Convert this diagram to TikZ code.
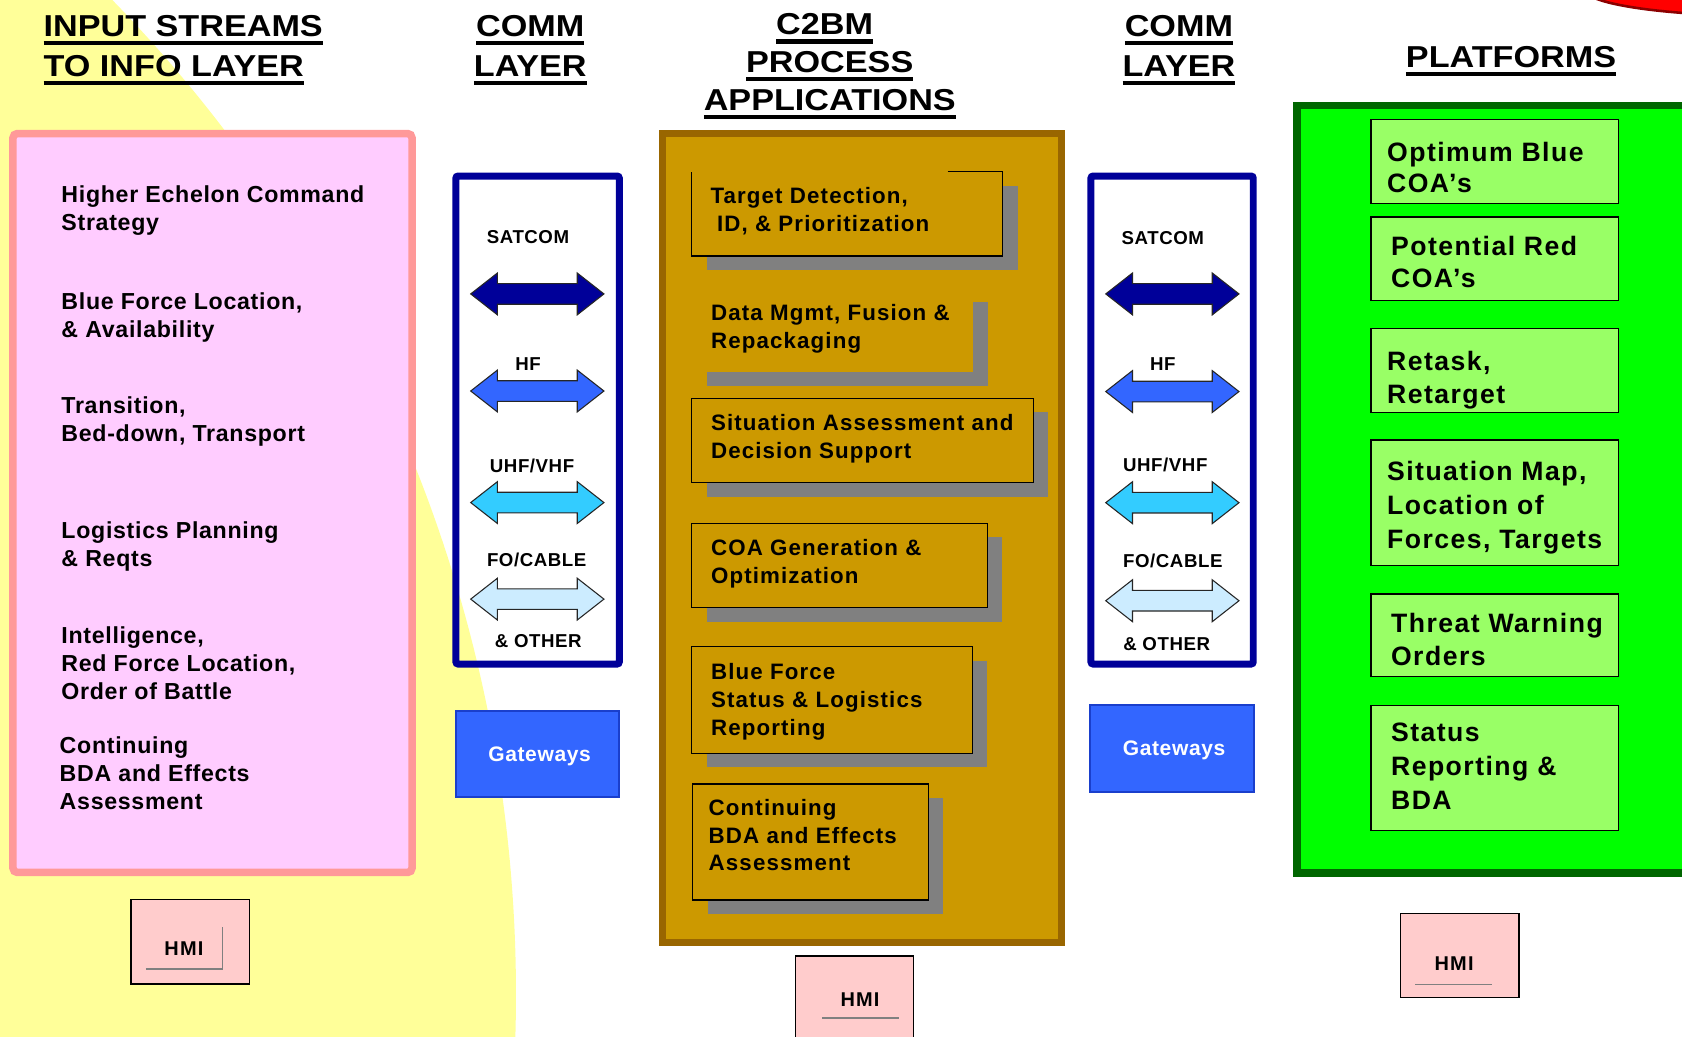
\documentclass[tikz,border=0pt]{standalone}
\usepackage{fontspec}
\setmainfont{Liberation Sans}
\newfontfamily\headfont{Liberation Sans}[FakeStretch=1.13]
\newfontfamily\leftfont{Liberation Sans}[LetterSpace=3]
\newfontfamily\procfont{Liberation Sans}[LetterSpace=5]
\newfontfamily\platfont{Liberation Sans}[LetterSpace=5.5]
\newfontfamily\commfont{Liberation Sans}[LetterSpace=3]
\newfontfamily\hmifont{Liberation Sans}[LetterSpace=6]
\usetikzlibrary{fit,shadows}

\definecolor{bgyellow}{HTML}{FFFF99}
\definecolor{inpfill}{HTML}{FFCCFF}
\definecolor{inpline}{HTML}{FF9999}
\definecolor{commline}{HTML}{000099}
\definecolor{satcol}{HTML}{000099}
\definecolor{hfcol}{HTML}{3366FF}
\definecolor{uhfcol}{HTML}{33CCFF}
\definecolor{focol}{HTML}{CCECFF}
\definecolor{gatefill}{HTML}{3366FF}
\definecolor{gateline}{HTML}{1A3FCC}
\definecolor{procfill}{HTML}{CC9900}
\definecolor{procline}{HTML}{996600}
\definecolor{shadowgray}{HTML}{808080}
\definecolor{platfill}{HTML}{00FF00}
\definecolor{platline}{HTML}{006600}
\definecolor{itemfill}{HTML}{99FF66}
\definecolor{hmifill}{HTML}{FFCCCC}
\definecolor{redmark}{HTML}{FF0000}

% underlined heading line
\newcommand\hdline[1]{\leavevmode\setbox0=\hbox{#1}\rlap{\rule[-4.1pt]{\wd0}{2pt}}\box0}

\tikzset{
  commarrow/.pic={
    \path[pic actions] (-62.1,0) -- (-37.2,-19.5) -- (-37.2,-9.6) -- (37.2,-9.6)
      -- (37.2,-19.5) -- (62.1,0) -- (37.2,19.5) -- (37.2,9.6) -- (-37.2,9.6)
      -- (-37.2,19.5) -- cycle;
  },
  panel/.style={inner sep=0pt, outer sep=0pt},
  textblock/.style={anchor=north west, inner sep=0pt, align=left},
  inptext/.style={textblock, font=\leftfont\bfseries\fontsize{10.8}{13}\selectfont},
  proctext/.style={textblock, font=\procfont\bfseries\fontsize{10.4}{13.2}\selectfont},
  plattext/.style={textblock, font=\platfont\bfseries\fontsize{12.4}{#1}\selectfont},
  plattext/.default=15.7pt,
  headtext/.style={anchor=north, inner sep=0pt, align=center,
    font=\headfont\bfseries\fontsize{14.1}{#1}\selectfont},
  headtext/.default=18.5pt,
  commlabel/.style={inner sep=0pt, text height=6.23pt, text depth=0pt,
    font=\commfont\bfseries\fontsize{8.7}{10}\selectfont},
  commpanel/.style={panel, draw=commline, line width=3.25pt, rounded corners=1pt},
  arrowline/.style={draw=black!85, line width=0.5pt},
  gateway/.style={panel, fill=gatefill, draw=gateline, line width=1pt, text=white,
    text height=7pt, text depth=0pt, font=\commfont\bfseries\fontsize{9.8}{11}\selectfont},
  procbox/.style={panel, fill=procfill,
    drop shadow={shadow xshift=7pt, shadow yshift=-6.5pt, opacity=1, fill=shadowgray}},
  procedge/.style={draw=black, line width=0.7pt},
  platbox/.style={panel, fill=itemfill, draw=black, line width=0.7pt},
  hmibox/.style={panel, fill=hmifill, draw=black, line width=0.6pt},
  hmitext/.style={inner sep=0pt, text height=6.66pt, text depth=0pt,
    font=\hmifont\bfseries\fontsize{9.3}{11}\selectfont},
  hmiline/.style={draw=shadowgray, line width=0.5pt},
}

\begin{document}
\begin{tikzpicture}[x=0.5pt, y=-0.5pt]
\useasboundingbox (0,0) rectangle (1568,966);
\clip (0,0) rectangle (1568,966);

% backdrop
\fill[bgyellow] (-849,927) circle (1330);
\filldraw[fill=redmark, draw=redmark!55!black, line width=1.2pt] (1650,-10) ellipse [x radius=173, y radius=25];

% column headings
\node (hin) [headtext, anchor=north west, align=left] at (40.3,14)
  {\hdline{INPUT STREAMS}\\\hdline{TO INFO LAYER}};
\node (hcomma) [headtext] at (494.3,14) {\hdline{COMM}\\\hdline{LAYER}};
\node (hc2bm) [headtext=17.6pt] at (773.5,12.4)
  {\hdline{C2BM}\kern4.8pt\\\hdline{PROCESS}\\\hdline{APPLICATIONS}};
\node (hcommb) [headtext] at (1099,14) {\hdline{COMM}\\\hdline{LAYER}};
\node (hplat) [headtext] at (1408.6,42.9) {\hdline{PLATFORMS}};

% input streams
\node (inpanel) [panel, fit={(12.1,124.5) (384.1,813.3)}, fill=inpfill, draw=inpline,
  line width=3.5pt, rounded corners=2pt] {};
\node (in1) [inptext] at (56.9,172.5) {Higher Echelon Command\\Strategy};
\node (in2) [inptext] at (56.9,272.9) {Blue Force Location,\\\& Availability};
\node (in3) [inptext] at (56.9,369.8) {Transition,\\Bed-down, Transport};
\node (in4) [inptext] at (56.9,486.4) {Logistics Planning\\\& Reqts};
\node (in5) [inptext] at (56.9,584.2) {Intelligence,\\Red Force Location,\\Order of Battle};
\node (in6) [inptext] at (55.3,686.2) {Continuing\\BDA and Effects\\Assessment};

% left comm layer
\node (comma) [commpanel, fit={(425,164.1) (577.3,619)}] {};
\node (asat) [commlabel] at (492.2,221) {SATCOM};
\pic[arrowline, fill=satcol] at (500.9,274) {commarrow};
\node (ahf) [commlabel] at (492.2,339) {HF};
\pic[arrowline, fill=hfcol] at (500.9,364.5) {commarrow};
\node (auhf) [commlabel] at (496,434) {UHF/VHF};
\pic[arrowline, fill=uhfcol] at (500.9,468.5) {commarrow};
\node (afo) [commlabel] at (500.3,522) {FO/CABLE};
\pic[arrowline, fill=focol] at (500.9,558.5) {commarrow};
\node (aoth) [commlabel] at (501.8,597) {\& OTHER};
\node (gatea) [gateway, minimum width=76pt, minimum height=40pt] at (501,703) {\kern2pt Gateways};

% C2BM process applications
\node (procpanel) [panel, fit={(617.7,124.5) (989.3,878.5)}, fill=procfill, draw=procline,
  line width=3.25pt] {};
\node (tdbox) [procbox, fit={(644.8,160) (934.7,238.7)}] {};
\draw[procedge] ([xshift=-25.6pt]tdbox.north east) -- (tdbox.north east) -- (tdbox.south east)
  -- (tdbox.south west) -- (tdbox.north west);
\node (tdtext) [proctext] at (662,174.1) {Target Detection,\\\hspace*{3pt}ID, \& Prioritization};
\node (dmbox) [procbox, fit={(645.4,268.2) (906.8,346.5)}] {};
\node (dmtext) [proctext] at (662.5,283.4) {Data Mgmt, Fusion \&\\Repackaging};
\node (sabox) [procbox, procedge, fit={(644.8,371.3) (963.3,450)}] {};
\node (satext) [proctext] at (662.5,386) {Situation Assessment and\\Decision Support};
\node (coabox) [procbox, procedge, fit={(644.8,487.9) (920.4,566.5)}] {};
\node (coatext) [proctext] at (662.5,502.5) {COA Generation \&\\Optimization};
\node (bfbox) [procbox, procedge, fit={(644.8,602.8) (906.4,702.3)}] {};
\node (bftext) [proctext] at (662.5,617.5) {Blue Force\\Status \& Logistics\\Reporting};
\node (cbbox) [procbox, procedge, fit={(645.7,730.9) (865.4,839)}] {};
\node (cbtext) [proctext, font=\procfont\bfseries\fontsize{10.4}{12.8}\selectfont] at (660.3,744.9)
  {Continuing\\BDA and Effects\\Assessment};

% right comm layer
\node (commb) [commpanel, fit={(1017,164.1) (1168.3,619)}] {};
\node (bsat) [commlabel] at (1084,221.5) {SATCOM};
\pic[arrowline, fill=satcol] at (1092.9,274) {commarrow};
\node (bhf) [commlabel] at (1084,339) {HF};
\pic[arrowline, fill=hfcol] at (1092.9,365) {commarrow};
\node (buhf) [commlabel] at (1086.3,433) {UHF/VHF};
\pic[arrowline, fill=uhfcol] at (1092.9,468.6) {commarrow};
\node (bfo) [commlabel] at (1093.3,522.8) {FO/CABLE};
\pic[arrowline, fill=focol] at (1092.9,560) {commarrow};
\node (both) [commlabel] at (1087.6,600) {\& OTHER};
\node (gateb) [gateway, minimum width=76.5pt, minimum height=40.5pt] at (1092.5,697.5) {\kern2pt Gateways};

% platforms
\node (platpanel) [panel, fit={(1209.3,98.4) (1600,813.7)}, fill=platfill, draw=platline,
  line width=3.5pt] {};
\node (pl1) [platbox, fit={(1278.1,111.2) (1508.7,189.6)}] {};
\node (pl1t) [plattext=14.4pt] at (1292.7,132.4) {Optimum Blue\\COA’s};
\node (pl2) [platbox, fit={(1278.1,202.3) (1508.7,280.3)}] {};
\node (pl2t) [plattext=14.8pt] at (1296.4,220) {Potential Red\\COA’s};
\node (pl3) [platbox, fit={(1278.1,306.4) (1508.7,384.4)}] {};
\node (pl3t) [plattext] at (1292.7,326.6) {Retask,\\Retarget};
\node (pl4) [platbox, fit={(1278.1,410.2) (1508.7,527.3)}] {};
\node (pl4t) [plattext] at (1292.7,429.8) {Situation Map,\\Location of\\Forces, Targets};
\node (pl5) [platbox, fit={(1278.1,553.7) (1508.7,630.8)}] {};
\node (pl5t) [plattext=15.2pt] at (1296.4,571.2) {Threat Warning\\Orders};
\node (pl6) [platbox, fit={(1278.1,657.5) (1508.7,774.4)}] {};
\node (pl6t) [plattext] at (1296.4,673.7) {Status\\Reporting \&\\BDA};

% human-machine interfaces
\node (hmia) [hmibox, fit={(122.1,838.4) (232.4,917.3)}] {};
\draw[hmiline] (136.1,903.3) -- (207.3,903.3) -- (207.3,864.5);
\node (hmiat) [hmitext] at (171.5,884) {HMI};
\node (hmib) [hmibox, fit={(741.7,891.2) (851.8,1000)}] {};
\draw[hmiline] (766.3,949) -- (837.8,949);
\node (hmibt) [hmitext] at (801.7,931.6) {HMI};
\node (hmic) [hmibox, fit={(1305.8,851.4) (1416,930)}] {};
\draw[hmiline] (1319.1,917.6) -- (1390.6,917.6);
\node (hmict) [hmitext] at (1355.5,898) {HMI};
\end{tikzpicture}
\end{document}
